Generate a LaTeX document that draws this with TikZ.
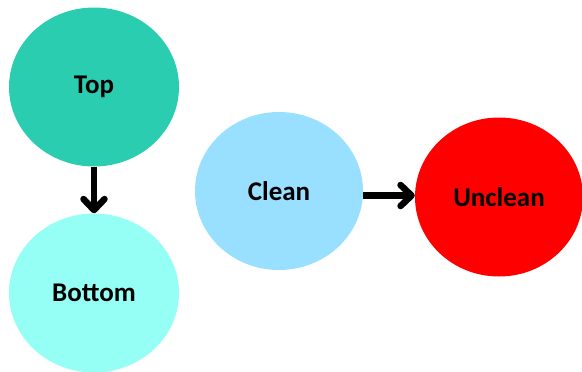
\documentclass[tikz,border=0pt]{standalone}
\usepackage{fontspec}
\setmainfont{Carlito}
\usetikzlibrary{arrows.meta,shapes.geometric}
\definecolor{topcol}{RGB}{43,205,177}
\definecolor{botcol}{RGB}{150,255,245}
\definecolor{cleancol}{RGB}{153,223,255}
\definecolor{uncleancol}{RGB}{255,0,0}
\tikzset{
  blob/.style={ellipse, minimum width=170pt, minimum height=159pt, inner sep=0pt,
    font=\fontsize{27}{32}\selectfont\bfseries},
  flow/.style={line width=6.5pt, -{Straight Barb[length=11pt,width=21pt,line cap=round,round]}}
}
\begin{document}
\begin{tikzpicture}[x=1pt,y=-1pt]
  \useasboundingbox (0,0) rectangle (582,372);
  % circles
  \node[blob, fill=topcol] (top) at (94,87) {Top};
  \node[blob, fill=botcol] (bottom) at (94,293) {Bottom};
  \node[blob, fill=cleancol, minimum width=168pt, minimum height=158pt] (clean) at (279,191) {Clean};
  \node[blob, fill=uncleancol, minimum width=168pt] (unclean) at (499,197) {Unclean};
  % arrows
  \draw[flow] (top.south) -- (bottom.north);
  \draw[flow] (clean.east |- 0,195.5) -- (unclean.west |- 0,195.5);
\end{tikzpicture}
\end{document}
